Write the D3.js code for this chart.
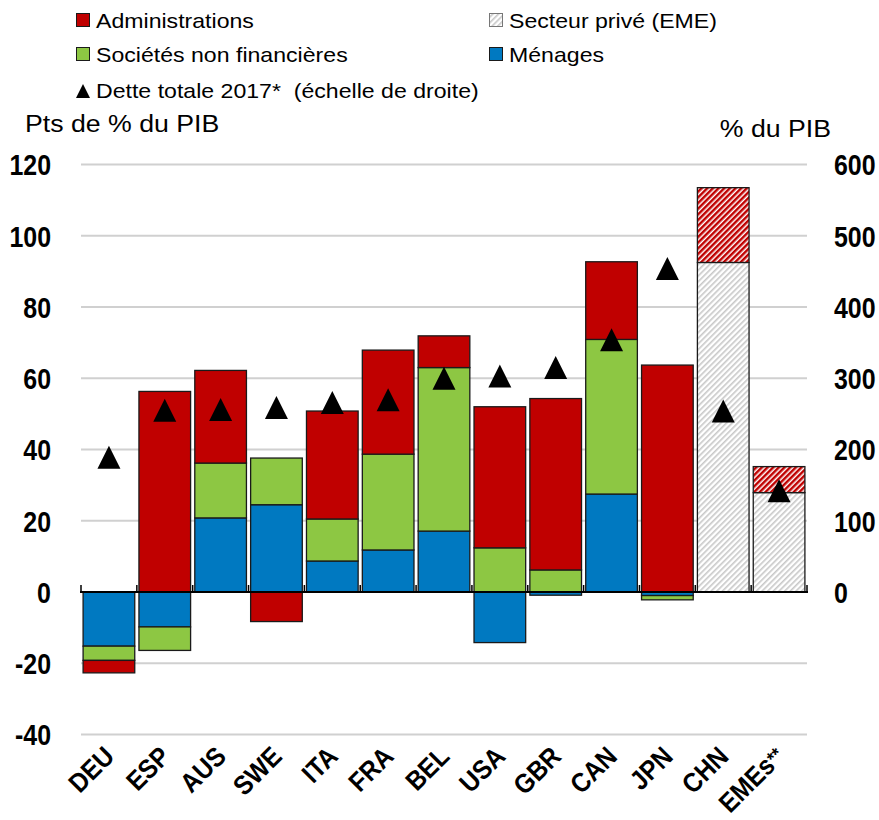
<!DOCTYPE html>
<html>
<head>
<meta charset="utf-8">
<script src="https://cdn.jsdelivr.net/npm/d3@7"></script>
<style>
  body { margin: 0; background: #fff; }
  text { font-family: "Liberation Sans", Arial, sans-serif; fill: #000; }
  .num { font-weight: bold; }
</style>
</head>
<body>
<div id="chart"></div>
<script>
// données (pts de % du PIB, variation)
const categories = ["DEU", "ESP", "AUS", "SWE", "ITA", "FRA", "BEL", "USA", "GBR", "CAN", "JPN", "CHN", "EMEs**"];
const menages = [-15.2, -9.8, 20.8, 24.5, 8.7, 11.8, 17.1, -14.2, -0.9, 27.5, -1.0, 0, 0];
const societes = [-4.0, -6.6, 15.4, 13.1, 11.8, 26.9, 45.9, 12.4, 6.2, 43.4, -1.2, 0, 0];
const administrations = [-3.5, 56.3, 26.0, -8.3, 30.3, 29.2, 8.9, 39.6, 48.1, 21.8, 63.7, 21.0, 7.3];
const secteurPrive = [0, 0, 0, 0, 0, 0, 0, 0, 0, 0, 0, 92.5, 27.9];
// dette totale 2017 (% du PIB, échelle de droite)
const detteTotale = [189, 255, 256, 259, 266, 270, 300, 303, 315, 354, 454, 254, 142];
const emeCats = ["CHN", "EMEs**"];
const leftTicks = [-40, -20, 0, 20, 40, 60, 80, 100, 120];
const rightTicks = [0, 100, 200, 300, 400, 500, 600];

const colors = { men: "#0079c1", snf: "#8dc743", adm: "#c00000" };

const paintChart = () => {
    const width = 879, height = 820;
    const x0 = 81, x1 = 807, yTop = 164.5, yBot = 734.5;

    const svg = d3.select("#chart").append("svg")
        .attr("width", width)
        .attr("height", height);

    // hachures
    const defs = svg.append("defs");
    const hatch = (id, color, w) => {
        const p = defs.append("pattern")
            .attr("id", id)
            .attr("patternUnits", "userSpaceOnUse")
            .attr("width", 4).attr("height", 4)
            .attr("patternTransform", "rotate(45)");
        p.append("rect").attr("width", 4).attr("height", 4).attr("fill", "#fff");
        p.append("rect").attr("width", w).attr("height", 4).attr("fill", color);
    };
    hatch("hatchGrey", "#c8c8c8", 1.6);
    hatch("hatchRed", "#c00000", 2.5);

    const x = d3.scaleBand().domain(categories).range([x0, x1]).paddingInner(0.075).paddingOuter(0.0375);
    const y = d3.scaleLinear().domain([-40, 120]).range([yBot, yTop]);
    const y2 = d3.scaleLinear().domain([-200, 600]).range([yBot, yTop]);

    // étire le texte horizontalement comme l'original
    const widen = (sel, k) => sel.each(function () {
        this.setAttribute("textLength", this.getComputedTextLength() * k);
        this.setAttribute("lengthAdjust", "spacingAndGlyphs");
    });

    // grille
    svg.append("g").selectAll("line")
        .data(leftTicks.filter(d => d !== 0))
        .enter().append("line")
        .attr("x1", x0).attr("x2", x1)
        .attr("y1", d => y(d)).attr("y2", d => y(d))
        .attr("stroke", "#d0d0d0").attr("stroke-width", 2);

    // axes (chiffres étroits : scale horizontal)
    const axL = svg.append("g").attr("transform", `translate(${x0},0)`)
        .call(d3.axisLeft(y).tickValues(leftTicks).tickSize(0).tickFormat(d => String(d)));
    const axR = svg.append("g").attr("transform", `translate(${x1},0)`)
        .call(d3.axisRight(y2).tickValues(rightTicks).tickSize(0).tickFormat(d => String(d)));
    axL.selectAll("text").attr("transform", "translate(-30,0) scale(0.86,1)");
    axR.selectAll("text").attr("transform", "translate(27,0) scale(0.86,1)");
    [axL, axR].forEach(a => {
        a.select(".domain").remove();
        a.selectAll("text").attr("class", "num").attr("font-size", 29).attr("fill", "#000")
            .attr("x", 0).attr("dy", "0.36em");
    });

    // barres empilées
    const rows = categories.map((c, i) => ({
        cat: c, prive: secteurPrive[i], men: menages[i], snf: societes[i], adm: administrations[i]
    }));
    const stack = d3.stack().keys(["prive", "men", "snf", "adm"]).offset(d3.stackOffsetDiverging);
    const series = stack(rows);

    const fillFor = (key, cat) => {
        if (key === "prive") return "url(#hatchGrey)";
        if (key === "adm" && emeCats.includes(cat)) return "url(#hatchRed)";
        return colors[key];
    };

    svg.append("g").selectAll("g")
        .data(series)
        .enter().append("g")
        .each(function (s) {
            d3.select(this).selectAll("rect")
                .data(s.filter(d => d[1] !== d[0]))
                .enter().append("rect")
                .attr("x", d => x(d.data.cat))
                .attr("width", x.bandwidth())
                .attr("y", d => y(Math.max(d[0], d[1])))
                .attr("height", d => Math.abs(y(d[0]) - y(d[1])))
                .attr("fill", d => fillFor(s.key, d.data.cat))
                .attr("stroke", "#1a1a1a")
                .attr("stroke-width", 1.3);
        });

    // ligne zéro et graduations
    svg.append("line")
        .attr("x1", x0 - 1).attr("x2", x1 + 1)
        .attr("y1", y(0)).attr("y2", y(0))
        .attr("stroke", "#000").attr("stroke-width", 2);
    const step = x.step();
    svg.append("g").selectAll("line")
        .data(d3.range(categories.length + 1))
        .enter().append("line")
        .attr("x1", i => x0 + i * step).attr("x2", i => x0 + i * step)
        .attr("y1", y(0)).attr("y2", y(0) - 7)
        .attr("stroke", "#000").attr("stroke-width", 1.5);

    // dette totale (triangles)
    const tri = {
        draw(context, size) {
            const r = Math.sqrt(size) / 2;
            context.moveTo(0, -r);
            context.lineTo(r, r);
            context.lineTo(-r, r);
            context.closePath();
        }
    };
    svg.append("g").selectAll("path")
        .data(categories)
        .enter().append("path")
        .attr("d", d3.symbol().type(tri).size(23 * 23))
        .attr("transform", (c, i) => `translate(${x(c) + x.bandwidth() / 2},${y2(detteTotale[i])})`)
        .attr("fill", "#000");

    // étiquettes pays (astérisques plus petits)
    const lbl = svg.append("g").selectAll("text")
        .data(categories)
        .enter().append("text")
        .attr("class", "num")
        .attr("font-size", 27)
        .attr("text-anchor", "end")
        .attr("transform", c => `translate(${x(c) + x.bandwidth() / 2 + 7},758) rotate(-45) scale(0.9,1)`);
    lbl.append("tspan").text(c => c.replace(/\*+$/, ""));
    lbl.filter(c => /\*$/.test(c)).append("tspan")
        .attr("font-size", 19).attr("dy", -3)
        .text(c => c.match(/\*+$/)[0]);

    // titres d'axes
    svg.append("text").attr("x", 25).attr("y", 132).attr("font-size", 23)
        .text("Pts de % du PIB").call(widen, 1.16);
    svg.append("text").attr("x", 831).attr("y", 137).attr("font-size", 23)
        .attr("text-anchor", "end")
        .text("% du PIB").call(widen, 1.16);

    // légende
    const legend = [
        { label: "Administrations", fill: colors.adm, col: 0, row: 0 },
        { label: "Sociétés non financières", fill: colors.snf, col: 0, row: 1 },
        { label: "Dette totale 2017*  (échelle de droite)", fill: null, col: 0, row: 2 },
        { label: "Secteur privé (EME)", fill: "url(#hatchGrey)", col: 1, row: 0 },
        { label: "Ménages", fill: colors.men, col: 1, row: 1 }
    ];
    const colX = [76, 489], rowY = [28, 62, 98];
    const lg = svg.append("g").selectAll("g")
        .data(legend)
        .enter().append("g")
        .attr("transform", d => `translate(${colX[d.col]},${rowY[d.row]})`);
    lg.filter(d => d.fill).append("rect")
        .attr("x", 0.5).attr("y", -14.5).attr("width", 13).attr("height", 13)
        .attr("fill", d => d.fill)
        .attr("stroke", d => d.fill === "url(#hatchGrey)" ? "#777" : "#1a1a1a")
        .attr("stroke-width", 1);
    lg.filter(d => !d.fill).append("path")
        .attr("d", d3.symbol().type(tri).size(14 * 14))
        .attr("transform", "translate(7,-7)")
        .attr("fill", "#000");
    lg.append("text")
        .attr("x", 20).attr("y", 0)
        .attr("font-size", 21)
        .style("white-space", "pre")
        .text(d => d.label)
        .call(widen, 1.1);
};

document.addEventListener("DOMContentLoaded", paintChart);
</script>
</body>
</html>
